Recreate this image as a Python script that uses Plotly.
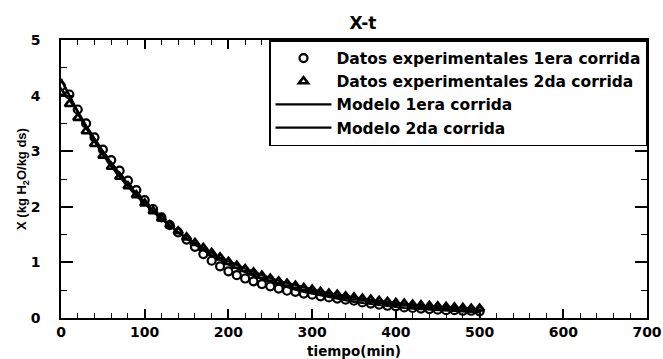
import plotly.graph_objects as go

# Drying time (min), sampled every 10 minutes
tiempo = [0, 10, 20, 30, 40, 50, 60, 70, 80, 90,
          100, 110, 120, 130, 140, 150, 160, 170, 180, 190,
          200, 210, 220, 230, 240, 250, 260, 270, 280, 290,
          300, 310, 320, 330, 340, 350, 360, 370, 380, 390,
          400, 410, 420, 430, 440, 450, 460, 470, 480, 490, 500]

# Moisture content X (kg H2O / kg dry solid)
exp_corrida1 = [4.17, 4.02, 3.75, 3.50, 3.25, 3.03, 2.84, 2.65, 2.47, 2.30,
                2.12, 1.96, 1.81, 1.67, 1.54, 1.41, 1.28, 1.15, 1.03, 0.93,
                0.84, 0.77, 0.71, 0.66, 0.61, 0.57, 0.53, 0.49, 0.47, 0.44,
                0.42, 0.39, 0.37, 0.35, 0.33, 0.31, 0.28, 0.26, 0.24, 0.22,
                0.21, 0.19, 0.18, 0.17, 0.16, 0.15, 0.14, 0.14, 0.13, 0.13, 0.12]

exp_corrida2 = [4.05, 3.85, 3.60, 3.36, 3.13, 2.92, 2.72, 2.54, 2.37, 2.21,
                2.06, 1.92, 1.79, 1.67, 1.56, 1.45, 1.35, 1.26, 1.17, 1.09,
                1.01, 0.94, 0.88, 0.82, 0.76, 0.71, 0.66, 0.62, 0.58, 0.54,
                0.51, 0.47, 0.44, 0.42, 0.39, 0.37, 0.35, 0.33, 0.31, 0.29,
                0.27, 0.26, 0.24, 0.23, 0.22, 0.21, 0.20, 0.19, 0.18, 0.17, 0.17]

modelo_corrida1 = [4.30, 4.00, 3.72, 3.46, 3.22, 3.00, 2.79, 2.59, 2.41, 2.24,
                   2.08, 1.93, 1.79, 1.66, 1.54, 1.43, 1.32, 1.22, 1.13, 1.04,
                   0.96, 0.89, 0.82, 0.76, 0.70, 0.65, 0.60, 0.55, 0.51, 0.47,
                   0.44, 0.40, 0.37, 0.34, 0.32, 0.29, 0.27, 0.25, 0.23, 0.21,
                   0.20, 0.18, 0.17, 0.16, 0.15, 0.14, 0.13, 0.12, 0.11, 0.10, 0.10]

modelo_corrida2 = [4.30, 3.98, 3.69, 3.42, 3.17, 2.94, 2.73, 2.54, 2.36, 2.20,
                   2.05, 1.91, 1.78, 1.66, 1.55, 1.44, 1.35, 1.26, 1.17, 1.09,
                   1.02, 0.95, 0.89, 0.83, 0.77, 0.72, 0.67, 0.63, 0.59, 0.55,
                   0.51, 0.48, 0.45, 0.42, 0.39, 0.37, 0.35, 0.32, 0.30, 0.29,
                   0.27, 0.25, 0.24, 0.22, 0.21, 0.20, 0.19, 0.18, 0.17, 0.16, 0.15]

FONT = "DejaVu Sans"

fig = go.Figure()

fig.add_trace(go.Scatter(
    x=tiempo, y=exp_corrida1, mode="markers",
    name="Datos experimentales 1era corrida",
    marker=dict(symbol="circle-open", size=8, color="black", line=dict(width=2.2)),
))
fig.add_trace(go.Scatter(
    x=tiempo, y=exp_corrida2, mode="markers",
    name="Datos experimentales 2da corrida",
    marker=dict(symbol="triangle-up-open", size=8, color="black", line=dict(width=2.6)),
))
fig.add_trace(go.Scatter(
    x=tiempo, y=modelo_corrida1, mode="lines",
    name="Modelo 1era corrida",
    line=dict(color="black", width=2.2),
))
fig.add_trace(go.Scatter(
    x=tiempo, y=modelo_corrida2, mode="lines",
    name="Modelo 2da corrida",
    line=dict(color="black", width=2.2),
))

axis_common = dict(
    showline=True, linecolor="black", linewidth=1.5, mirror="ticks",
    ticks="inside", tickcolor="black", tickwidth=1.5,
    showgrid=False, zeroline=False, ticklabeloverflow="allow", automargin=False,
    tickfont=dict(family=FONT, size=14, color="black", weight="bold"),
)

fig.update_xaxes(
    range=[0, 700], dtick=100, ticklen=9,
    minor=dict(dtick=20, ticks="inside", ticklen=5, tickcolor="black", tickwidth=1.2),
    title=dict(text="tiempo(min)", standoff=10,
               font=dict(family=FONT, size=13.5, color="black", weight="bold")),
    **axis_common,
)
fig.update_yaxes(
    range=[0, 5], dtick=1, ticklen=12, ticklabelstandoff=16,
    minor=dict(dtick=0.5, ticks="inside", ticklen=6, tickcolor="black", tickwidth=1.2),
    title=dict(text="X (kg H<sub>2</sub>O/kg ds)", standoff=0,
               font=dict(family="Liberation Sans", size=13, color="black", weight="bold")),
    **axis_common,
)

fig.update_layout(
    width=663, height=359,
    margin=dict(l=61, r=16, t=40, b=41),
    paper_bgcolor="white", plot_bgcolor="white",
    title=dict(text="X-t", x=363 / 663, xanchor="center", y=1 - 23 / 359, yanchor="middle",
               font=dict(family=FONT, size=17, color="black", weight="bold")),
    showlegend=True,
    legend=dict(
        x=1, xanchor="right", y=1, yanchor="top",
        bgcolor="white", bordercolor="black", borderwidth=1.5,
        font=dict(family=FONT, size=15.5, color="black", weight="bold"),
        itemwidth=56,
    ),
)

fig.write_html("out.html")
